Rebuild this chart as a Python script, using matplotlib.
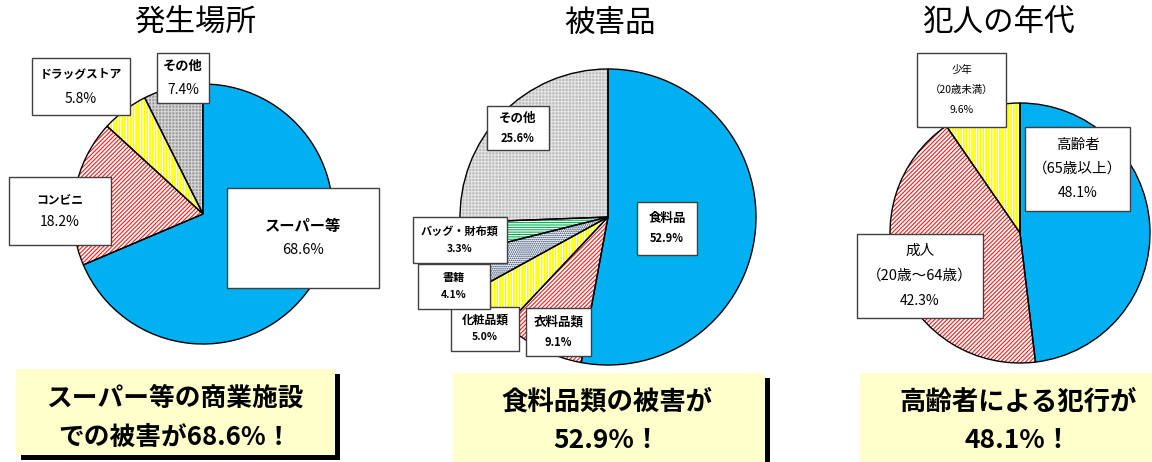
import matplotlib
matplotlib.use("Agg")
from matplotlib import pyplot as plt
from matplotlib.patches import Rectangle

plt.rcParams['font.family'] = ['Noto Sans CJK JP', 'DejaVu Sans']
plt.rcParams['hatch.linewidth'] = 0.8

W, H = 1152, 462

# data
titles = ["発生場所", "被害品", "犯人の年代"]

place_names = ["スーパー等", "コンビニ", "ドラッグストア", "その他"]
place_values = [68.6, 18.2, 5.8, 7.4]
place_fills = ["blue", "red", "yellow", "gray_dark"]

item_names = ["食料品", "衣料品類", "化粧品類", "書籍", "バッグ・財布類", "その他"]
item_values = [52.9, 9.1, 5.0, 4.1, 3.3, 25.6]
item_fills = ["blue", "red", "yellow", "dots", "green", "gray"]

age_names = ["高齢者\n（65歳以上）", "成人\n（20歳～64歳）", "少年\n（20歳未満）"]
age_values = [48.1, 42.3, 9.6]
age_fills = ["blue", "red", "yellow"]

notes = ["スーパー等の商業施設\nでの被害が68.6%！",
         "食料品類の被害が\n52.9%！",
         "高齢者による犯行が\n48.1%！"]

# face colour, hatch colour, hatch
fills = {
    "blue": ("#00b0f0", "#00b0f0", None),
    "red": ("white", "#ff1a1a", "////////"),
    "yellow": ("#ffff00", "white", "||||||"),
    "gray_dark": ("#9c9c9c", "#d6d6d6", "+++++"),
    "gray": ("#bcbcbc", "#e4e4e4", "+++++"),
    "dots": ("white", "#1f3864", "........"),
    "green": ("white", "#00b050", "-------"),
}

fig = plt.figure(figsize=(11.52, 4.62), dpi=100)
ax = fig.add_axes([0, 0, 1, 1])


def draw_pie(values, kinds, cx, cy, r):
    wedges, _ = ax.pie(values, center=(cx, H - cy), radius=r, startangle=90,
                       counterclock=False, wedgeprops=dict(linewidth=0))
    for w, k in zip(wedges, kinds):
        face, hcol, hatch = fills[k]
        w.set_facecolor(face)
        w.set_edgecolor(hcol)
        w.set_hatch(hatch)
    ax.pie(values, center=(cx, H - cy), radius=r, startangle=90,
           counterclock=False, colors=["none"] * len(values),
           wedgeprops=dict(linewidth=1, edgecolor="black"))


def label_box(x0, y0, x1, y1, name, value, size, gap, wname, wval, vsize=None):
    ax.add_patch(Rectangle((x0, H - y1), x1 - x0, y1 - y0, facecolor="white",
                           edgecolor="#404040", linewidth=1, zorder=3))
    lines = name.split("\n") + [f"{value:.1f}%"]
    n = len(lines)
    cx, cy = (x0 + x1) / 2, (y0 + y1) / 2
    for i, t in enumerate(lines):
        last = i == n - 1
        ax.text(cx, H - (cy + (i - (n - 1) / 2) * gap), t, ha="center", va="center",
                fontsize=(vsize or size) if last else size,
                fontweight=wval if last else wname, zorder=4)


draw_pie(place_values, place_fills, 203, 214, 130)
draw_pie(item_values, item_fills, 608, 217, 148)
draw_pie(age_values, age_fills, 1020, 233, 130)

# titles
for x, t in zip([195, 610, 998], titles):
    ax.text(x, H - 23, t, ha="center", va="center", fontsize=22)

# label boxes, pie 1
b1 = [(227, 188, 379, 288, 11, 25, 10.5), (9, 177, 111, 245, 8.5, 23, 10),
      (32, 58, 130, 115, 8.5, 25, 10), (157, 53, 209, 103, 9.5, 24, 10)]
for (x0, y0, x1, y1, s, g, vs), nm, v in zip(b1, place_names, place_values):
    label_box(x0, y0, x1, y1, nm, v, s, g, "bold", "normal", vs)

# label boxes, pie 2
b2 = [(637, 202, 697, 255, 9, 20, 8), (526, 308, 591, 356, 9, 20, 8),
      (451, 307, 519, 351, 8.5, 17, 7.5), (418, 264, 490, 309, 8, 17, 7.5),
      (413, 217, 507, 263, 8, 17, 7.5), (487, 106, 549, 150, 9, 20, 8)]
for (x0, y0, x1, y1, s, g, vs), nm, v in zip(b2, item_names, item_values):
    label_box(x0, y0, x1, y1, nm, v, s, g, "bold", "bold", vs)

# label boxes, pie 3
b3 = [(1025, 127, 1130, 211, 10.5, 24, 10), (857, 234, 983, 318, 10.5, 25, 10),
      (917, 53, 1006, 127, 7.5, 20, 7.5)]
for (x0, y0, x1, y1, s, g, vs), nm, v in zip(b3, age_names, age_values):
    label_box(x0, y0, x1, y1, nm, v, s, g, "normal", "normal", vs)

# yellow notes with shadow
nb = [(16, 369, 335, 455, 175, 18.5), (453, 373, 765, 475, 607, 19),
      (860, 373, 1165, 475, 1018, 19)]
for (x0, y0, x1, y1, cx, s), t in zip(nb, notes):
    ax.add_patch(Rectangle((x0 + 5, H - y1 - 5), x1 - x0, y1 - y0,
                           facecolor="black", linewidth=0, zorder=3))
    ax.add_patch(Rectangle((x0, H - y1), x1 - x0, y1 - y0,
                           facecolor="#ffffcc", linewidth=0, zorder=3))
    l1, l2 = t.split("\n")
    ax.text(cx, H - (y0 + 29), l1, ha="center", va="center", fontsize=s,
            fontweight="bold", zorder=4)
    ax.text(cx, H - (y0 + 68), l2, ha="center", va="center", fontsize=s,
            fontweight="bold", zorder=4)

ax.set_xlim(0, W)
ax.set_ylim(0, H)
ax.set_aspect("equal")
ax.axis("off")

fig.savefig("out.png", dpi=100)
